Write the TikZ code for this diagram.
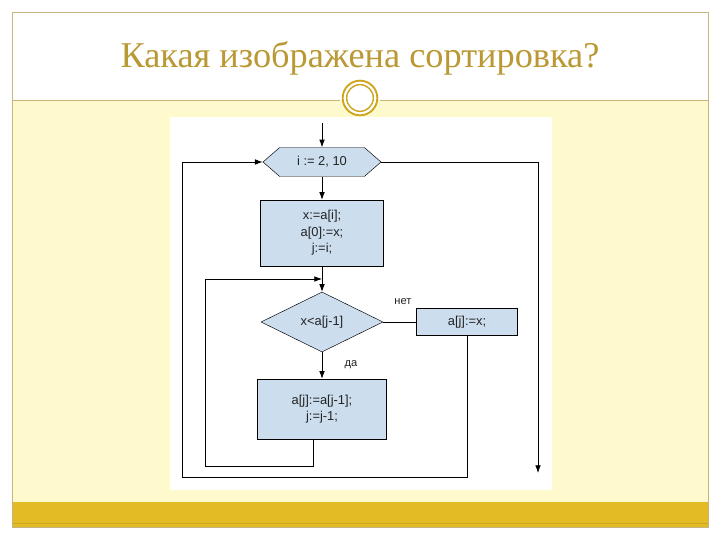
\documentclass[tikz,border=0pt]{standalone}
\usepackage{fontspec}
\setmainfont{Liberation Serif}
\newfontfamily\sofont{Liberation Sans}
\usepackage{tikz}
\usetikzlibrary{positioning}
\usetikzlibrary{arrows.meta, shapes.geometric, shapes.symbols}
\definecolor{khung}{RGB}{200,180,125}
\definecolor{vang}{RGB}{227,188,37}
\definecolor{vangdam}{RGB}{205,165,30}
\definecolor{kem}{RGB}{255,249,206}
\definecolor{tieude}{RGB}{186,153,52}
\definecolor{xanh}{RGB}{204,221,238}
\definecolor{chuso}{RGB}{35,35,35}

\begin{document}
\begin{tikzpicture}[x=0.03cm, y=-0.03cm,
    khoi/.style={rectangle, draw, fill=xanh, text=chuso, align=center, inner sep=0pt,
        font=\sofont\fontsize{11}{14}\selectfont},
    nhan/.style={text=chuso, font=\sofont\fontsize{9.5}{11}\selectfont},
    muiten/.style={-{Latex[length=2.3mm, width=1.7mm]}},
    duong/.style={line width=0.7pt}]
    % Nền trang chiếu
    \useasboundingbox (0,0) rectangle (720,540);
    \fill[white] (0,0) rectangle (720,540);
    \fill[kem] (12,100) rectangle (708,502); % nền màu kem
    \fill[vang] (12,502) rectangle (708,527); % dải vàng dưới
    \draw[vangdam, line width=0.6pt] (12,523) -- (708,523);
    \draw[khung, line width=0.7pt] (12,12) rectangle (708,527); % khung ngoài
    \draw[khung, line width=0.7pt] (12,100) -- (340,100);
    \draw[khung, line width=0.7pt] (380,100) -- (708,100);
    % Vòng tròn trang trí
    \fill[white] (360,98) circle (0.52cm);
    \draw[vangdam, line width=1.6pt] (360,98) circle (0.52cm);
    \draw[vangdam, line width=1.2pt] (360,98) circle (0.40cm);
    % Tiêu đề
    \node[text=tieude, font=\fontsize{31}{36}\selectfont] (tieude) at (360,58) {Какая изображена сортировка?};

    % Nền trắng của sơ đồ
    \fill[white] (170,117) rectangle (552,490);

    % Các khối của sơ đồ
    \node[signal, signal to=east and west, signal pointer angle=82, draw, fill=xanh, text=chuso,
        minimum width=3.54cm, minimum height=0.87cm, inner sep=0pt,
        font=\sofont\fontsize{11}{14}\selectfont] (lap) at (322,162) {i := 2, 10};
    \node[khoi, minimum width=3.69cm, minimum height=1.98cm] (hop1) at (322,233) {x:=a[i];\\a[0]:=x;\\j:=i;};
    \node[diamond, draw, fill=xanh, text=chuso, minimum width=3.66cm, minimum height=1.8cm, inner sep=0pt,
        font=\sofont\fontsize{11}{14}\selectfont] (dk) at (322,322) {x<a[j-1]};
    \node[khoi, minimum width=3.87cm, minimum height=1.8cm] (hop2) at (322,409) {a[j]:=a[j-1];\\j:=j-1;};
    \node[khoi, minimum width=3.03cm, minimum height=0.81cm] (hop3) at (467,322) {a[j]:=x;};
    \node[nhan] (net) at (403,302) {нет};
    \node[nhan] (da) at (351,365) {да};

    % Các điểm gấp khúc
    \coordinate (dau) at (322,123);
    \coordinate (noi) at (322,279);
    \coordinate (trai) at (205,466);
    \coordinate (duoi) at (182,477);
    \coordinate (cuoi) at (538,473);

    % Mũi tên
    \draw[duong, muiten] (dau) -- (lap.north);
    \draw[duong, muiten] (lap.south) -- (hop1.north);
    \draw[duong, muiten] (hop1.south) -- (dk.north);
    \draw[duong, muiten] (dk.south) -- (hop2.north);
    \draw[duong] (dk.east) -- (hop3.west);
    \draw[duong, muiten] (lap.east) -| (cuoi); % nhánh ra
    \draw[duong, muiten] ([xshift=-0.25cm]hop2.south) |- (trai) |- (noi); % vòng trong
    \draw[duong, muiten] (hop3.south) |- (duoi) |- (lap.west); % vòng ngoài
\end{tikzpicture}
\end{document}
